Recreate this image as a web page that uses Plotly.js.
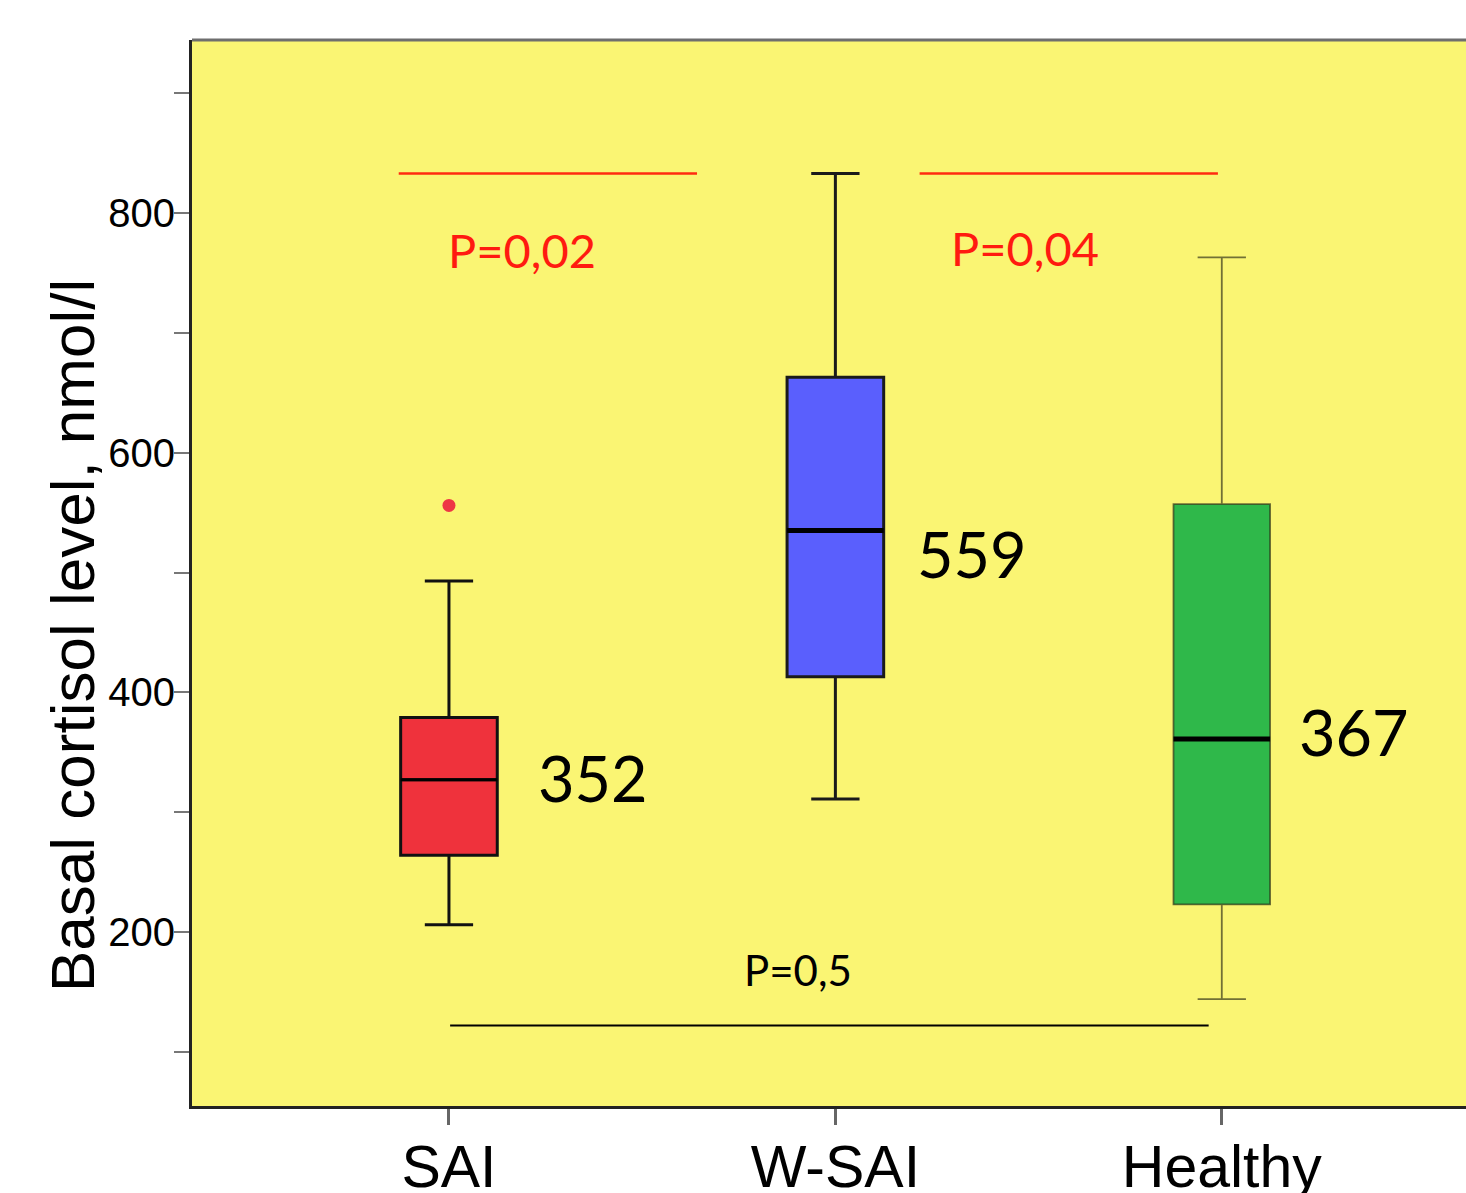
<!DOCTYPE html>
<html>
<head>
<meta charset="utf-8">
<script src="https://cdn.plot.ly/plotly-3.0.1.min.js"></script>
<style>html,body{margin:0;padding:0;background:#fff;}#chart{width:1466px;height:1193px;}</style>
</head>
<body>
<div id="chart"></div>
<script>
// ---- data ----
const categories = ['SAI', 'W-SAI', 'Healthy'];
const lowerWhisker = [206, 311, 144];
const q1Values = [264, 413, 223];
const medianValues = [327, 535, 361];
const q3Values = [379, 663, 557];
const upperWhisker = [493, 833, 763];
const outlierCategory = ['SAI'];
const outlierValues = [556];
const groupLabels = ['352', '559', '367'];
const groupLabelLevels = [329, 516, 367];
const pTexts = ['P=0,02', 'P=0,04', 'P=0,5'];
const pTextLevels = [769, 771, 168];
const bracketLevels = [833, 833, 122];
const yTickValues = [100, 200, 300, 400, 500, 600, 700, 800, 900];
const yTickLabels = ['', '200', '', '400', '', '600', '', '800', ''];
const yTitle = 'Basal cortisol level, nmol/l';

// ---- styling ----
const fills = ['#EF323C', '#5A5FFD', '#2FB84A'];
const outlines = ['#111111', '#1a1a1a', 'rgba(40,40,20,0.65)'];
const outlineWidths = [3, 3, 1.8];
const medianWidths = [3, 5, 5];
const boxWidth = 0.25;

const traces = categories.map((c, i) => ({
  type: 'box',
  x: [c],
  q1: [q1Values[i]],
  median: [medianValues[i]],
  q3: [q3Values[i]],
  lowerfence: [lowerWhisker[i]],
  upperfence: [upperWhisker[i]],
  width: boxWidth,
  whiskerwidth: 0.5,
  fillcolor: fills[i],
  line: {color: outlines[i], width: outlineWidths[i]},
  boxpoints: false,
  hoverinfo: 'skip',
  showlegend: false
}));

traces.push({
  type: 'scatter', mode: 'markers',
  x: outlierCategory, y: outlierValues,
  marker: {color: '#EE3645', size: 13},
  showlegend: false, hoverinfo: 'skip'
});

const shapes = [];
// thicker median lines
categories.forEach((c, i) => {
  shapes.push({
    type: 'line', xref: 'x', yref: 'y',
    x0: i - boxWidth / 2, x1: i + boxWidth / 2,
    y0: medianValues[i], y1: medianValues[i],
    line: {color: '#000', width: medianWidths[i]}
  });
});
// comparison lines
shapes.push({type: 'line', xref: 'x', yref: 'y', x0: -0.13, x1: 0.642, y0: bracketLevels[0], y1: bracketLevels[0], line: {color: '#FF2A10', width: 2.5}});
shapes.push({type: 'line', xref: 'x', yref: 'y', x0: 1.218, x1: 1.99, y0: bracketLevels[1], y1: bracketLevels[1], line: {color: '#FF2A10', width: 2.5}});
shapes.push({type: 'line', xref: 'x', yref: 'y', x0: 0.003, x1: 1.966, y0: bracketLevels[2], y1: bracketLevels[2], line: {color: '#000', width: 2}});
// top border of plot area
shapes.push({type: 'line', xref: 'paper', yref: 'paper', x0: 0, x1: 1, y0: 1, y1: 1, line: {color: '#6e6e6e', width: 3}});

const calibriLike = 'Lato, "Open Sans", sans-serif';
const annotations = [];
const labelOffsets = [0.225, 0.205, 0.195];
categories.forEach((c, i) => {
  annotations.push({
    xref: 'x', yref: 'y', x: i + labelOffsets[i], y: groupLabelLevels[i],
    text: groupLabels[i], showarrow: false, xanchor: 'left', yanchor: 'middle',
    font: {family: calibriLike, size: 63, color: '#000'}
  });
});
annotations.push({xref: 'x', yref: 'y', x: -0.008, y: pTextLevels[0], text: pTexts[0], showarrow: false, xanchor: 'left', yanchor: 'middle', font: {family: calibriLike, size: 47, color: '#FF1A10'}});
annotations.push({xref: 'x', yref: 'y', x: 1.295, y: pTextLevels[1], text: pTexts[1], showarrow: false, xanchor: 'left', yanchor: 'middle', font: {family: calibriLike, size: 47, color: '#FF1A10'}});
annotations.push({xref: 'x', yref: 'y', x: 0.758, y: pTextLevels[2], text: pTexts[2], showarrow: false, xanchor: 'left', yanchor: 'middle', font: {family: calibriLike, size: 42, color: '#000'}});
// y axis title
annotations.push({
  xref: 'paper', yref: 'paper', x: -0.0942, y: 0.4418,
  text: yTitle, showarrow: false, textangle: -90,
  xanchor: 'center', yanchor: 'middle',
  font: {family: 'Arial, "Liberation Sans", sans-serif', size: 62, color: '#000'}
});

const layout = {
  width: 1466, height: 1193,
  margin: {l: 192, r: 0, t: 40, b: 87, pad: 0},
  paper_bgcolor: '#ffffff',
  plot_bgcolor: '#FAF573',
  boxmode: 'overlay',
  showlegend: false,
  font: {family: 'Arial, "Liberation Sans", sans-serif', color: '#000'},
  xaxis: {
    type: 'category',
    categoryorder: 'array', categoryarray: categories,
    range: [-0.665, 2.632],
    showgrid: false, zeroline: false,
    showline: true, linecolor: '#222', linewidth: 3,
    ticks: 'outside', ticklen: 16, tickwidth: 3, tickcolor: '#666',
    ticklabelstandoff: -9,
    tickfont: {size: 59, color: '#000'}
  },
  yaxis: {
    range: [54.8, 944.4],
    showgrid: false, zeroline: false,
    showline: true, linecolor: '#222', linewidth: 3,
    tickmode: 'array', tickvals: yTickValues, ticktext: yTickLabels,
    ticks: 'outside', ticklen: 15, tickwidth: 2, tickcolor: '#777',
    ticklabelstandoff: -9,
    tickfont: {size: 40, color: '#000'}
  },
  shapes: shapes,
  annotations: annotations
};

Plotly.newPlot('chart', traces, layout, {displayModeBar: false, staticPlot: true});
</script>
</body>
</html>
